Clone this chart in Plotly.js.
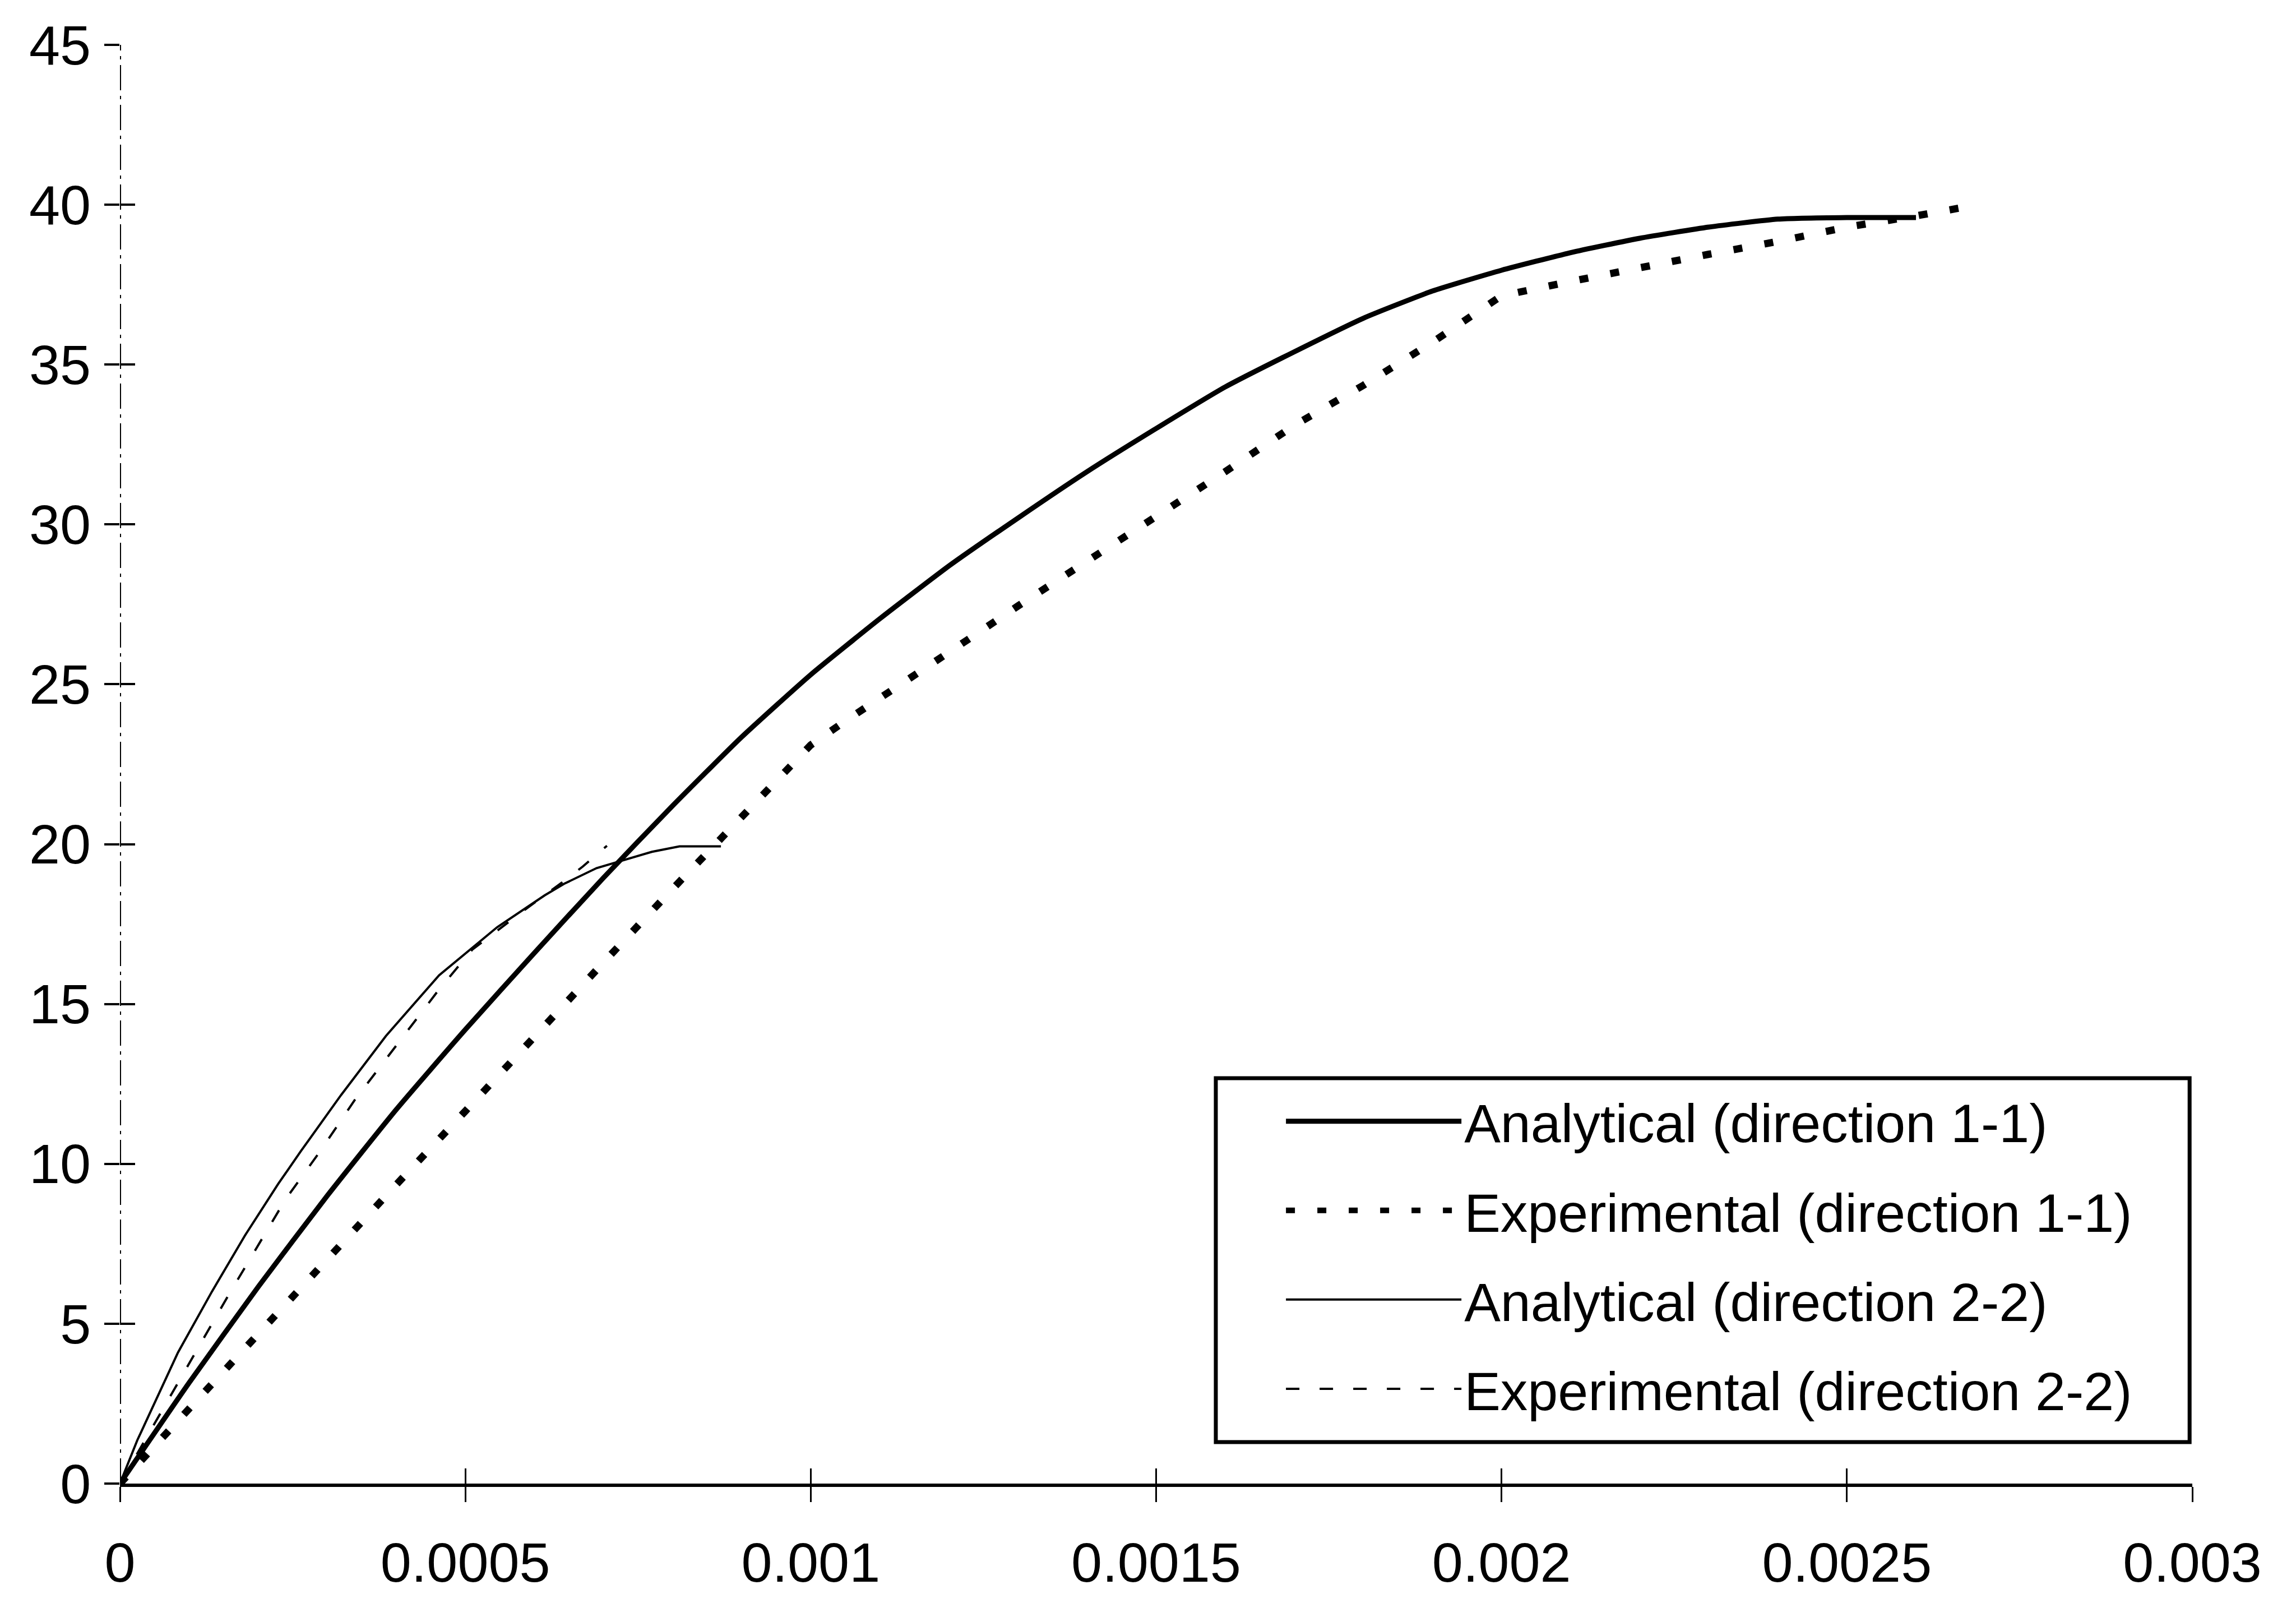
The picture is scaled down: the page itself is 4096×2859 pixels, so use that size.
<!DOCTYPE html>
<html>
<head>
<meta charset="utf-8">
<script src="https://cdn.plot.ly/plotly-3.0.1.min.js"></script>
<style>
  html, body { margin: 0; padding: 0; background: #ffffff; }
  #chart { width: 4096px; height: 2859px; }
</style>
</head>
<body>
<div id="chart"></div>
<script>
// ---- Data (strain vs stress) ----
const AN11_STRAIN = [0, 0.0001, 0.0002, 0.0003, 0.0004, 0.0005, 0.0006, 0.0007, 0.0008, 0.0009, 0.001, 0.0011, 0.0012, 0.0013, 0.0014, 0.0015, 0.0016, 0.0017, 0.0018, 0.0019, 0.002, 0.0021, 0.0022, 0.0023, 0.0024, 0.0025, 0.0026];
const AN11_STRESS = [0, 3.15, 6.15, 9.0, 11.7, 14.2, 16.6, 18.95, 21.2, 23.35, 25.3, 27.05, 28.7, 30.2, 31.65, 33.0, 34.3, 35.4, 36.45, 37.3, 37.95, 38.5, 38.95, 39.3, 39.55, 39.6, 39.6];

const EX11_STRAIN = [0, 0.0001, 0.0002, 0.0003, 0.0004, 0.0005, 0.0006, 0.0007, 0.0008, 0.0009, 0.001, 0.00105, 0.0011, 0.0012, 0.0013, 0.0014, 0.0015, 0.0016, 0.0017, 0.0018, 0.0019, 0.002, 0.0021, 0.0022, 0.0023, 0.0024, 0.0025, 0.0026, 0.00269];
const EX11_STRESS = [0, 2.35, 4.65, 7.0, 9.35, 11.65, 14.0, 16.3, 18.6, 20.85, 23.1, 23.85, 24.55, 26.0, 27.45, 28.85, 30.2, 31.65, 33.1, 34.35, 35.7, 37.15, 37.6, 38.05, 38.45, 38.85, 39.3, 39.65, 40.0];

const AN22_STRAIN = [0, 0.000025, 0.000084, 0.000133, 0.000181, 0.000229, 0.000262, 0.00032, 0.000385, 0.000462, 0.000546, 0.000615, 0.000643, 0.00069, 0.00077, 0.00081, 0.00087];
const AN22_STRESS = [0, 1.35, 4.1, 6.0, 7.76, 9.37, 10.4, 12.15, 14.0, 15.9, 17.4, 18.4, 18.76, 19.25, 19.76, 19.93, 19.93];

const EX22_STRAIN = [0, 0.00008, 0.00016, 0.00024, 0.00029, 0.00034, 0.0004, 0.00046, 0.00051, 0.00058, 0.00064, 0.00067, 0.000705];
const EX22_STRESS = [0, 3.0, 6.0, 8.9, 10.4, 12.0, 13.7, 15.4, 16.7, 17.85, 18.8, 19.3, 19.95];

const SERIES_NAMES = ["Analytical (direction 1-1)", "Experimental (direction 1-1)", "Analytical (direction 2-2)", "Experimental (direction 2-2)"];

const X_TICK_VALS = [0, 0.0005, 0.001, 0.0015, 0.002, 0.0025, 0.003];
const X_TICK_TEXT = ["0", "0.0005", "0.001", "0.0015", "0.002", "0.0025", "0.003"];
const Y_TICK_VALS = [0, 5, 10, 15, 20, 25, 30, 35, 40, 45];
const Y_TICK_TEXT = ["0", "5", "10", "15", "20", "25", "30", "35", "40", "45"];

// ---- Styling ----
const FONT = "Liberation Sans, Arial, Helvetica, sans-serif";
const INK = "#000000";

const traces = [
  { x: AN11_STRAIN, y: AN11_STRESS, name: SERIES_NAMES[0], legendgroup: "g1",
    mode: "lines", line: { color: INK, width: 9, shape: "spline", smoothing: 0.5 } },
  { x: EX11_STRAIN, y: EX11_STRESS, name: SERIES_NAMES[1], legendgroup: "g2",
    mode: "lines", line: { color: INK, width: 13, dash: "16px,40px" } },
  { x: AN22_STRAIN, y: AN22_STRESS, name: SERIES_NAMES[2], legendgroup: "g3",
    mode: "lines", line: { color: INK, width: 4 } },
  { x: EX22_STRAIN, y: EX22_STRESS, name: SERIES_NAMES[3], legendgroup: "g4",
    mode: "lines", line: { color: INK, width: 4, dash: "24px,36px" } },
  // helper (no visible marks) carrying the overlay axes that draw the inner half of the crossing ticks
  { x: [null], y: [null], xaxis: "x2", yaxis: "y2", showlegend: false, hoverinfo: "skip", mode: "lines" }
];

const layout = {
  width: 4096, height: 2859,
  paper_bgcolor: "#ffffff", plot_bgcolor: "#ffffff",
  margin: { l: 214, r: 185, t: 80, b: 213, pad: 0 },
  font: { family: FONT, color: INK, size: 99 },
  showlegend: true,
  xaxis: {
    range: [0, 0.003], tickvals: X_TICK_VALS, ticktext: X_TICK_TEXT,
    ticks: "outside", ticklen: 27, tickwidth: 3, tickcolor: INK,
    showline: true, linewidth: 6, linecolor: INK,
    showgrid: false, zeroline: false,
    tickfont: { family: FONT, size: 99, color: INK },
    ticklabelstandoff: 23
  },
  yaxis: {
    range: [0, 45], tickvals: Y_TICK_VALS, ticktext: Y_TICK_TEXT,
    ticks: "outside", ticklen: 27, tickwidth: 4, tickcolor: INK,
    showline: false, showgrid: false, zeroline: false,
    tickfont: { family: FONT, size: 99, color: INK },
    ticklabelstandoff: 4
  },
  xaxis2: {
    overlaying: "x", anchor: "y2", range: [0, 0.003], tickvals: X_TICK_VALS,
    ticks: "inside", ticklen: 27, tickwidth: 3, tickcolor: INK,
    showticklabels: false, showline: false, showgrid: false, zeroline: false
  },
  yaxis2: {
    overlaying: "y", anchor: "x2", range: [0, 45], tickvals: Y_TICK_VALS,
    ticks: "inside", ticklen: 27, tickwidth: 4, tickcolor: INK,
    showticklabels: false, showline: false, showgrid: false, zeroline: false
  },
  legend: {
    x: 0.5613, xanchor: "left", y: 0.2790, yanchor: "top",
    bgcolor: "rgba(0,0,0,0)", borderwidth: 0,
    font: { family: FONT, size: 97, color: INK },
    itemwidth: 313, traceorder: "grouped", tracegroupgap: 30
  },
  shapes: [
    // y axis line (dash-dot, as in the scan)
    { type: "line", xref: "x", yref: "y", x0: 0, x1: 0, y0: 0, y1: 45,
      line: { color: INK, width: 4, dash: "45px,10px,6px,10px" } },
    // legend frame
    { type: "rect", xref: "paper", yref: "paper", x0: 0.5288, x1: 0.9987, y0: 0.0288, y1: 0.2818,
      line: { color: INK, width: 7 }, fillcolor: "rgba(0,0,0,0)" }
  ]
};

Plotly.newPlot("chart", traces, layout, { displayModeBar: false, staticPlot: true });
</script>
</body>
</html>
